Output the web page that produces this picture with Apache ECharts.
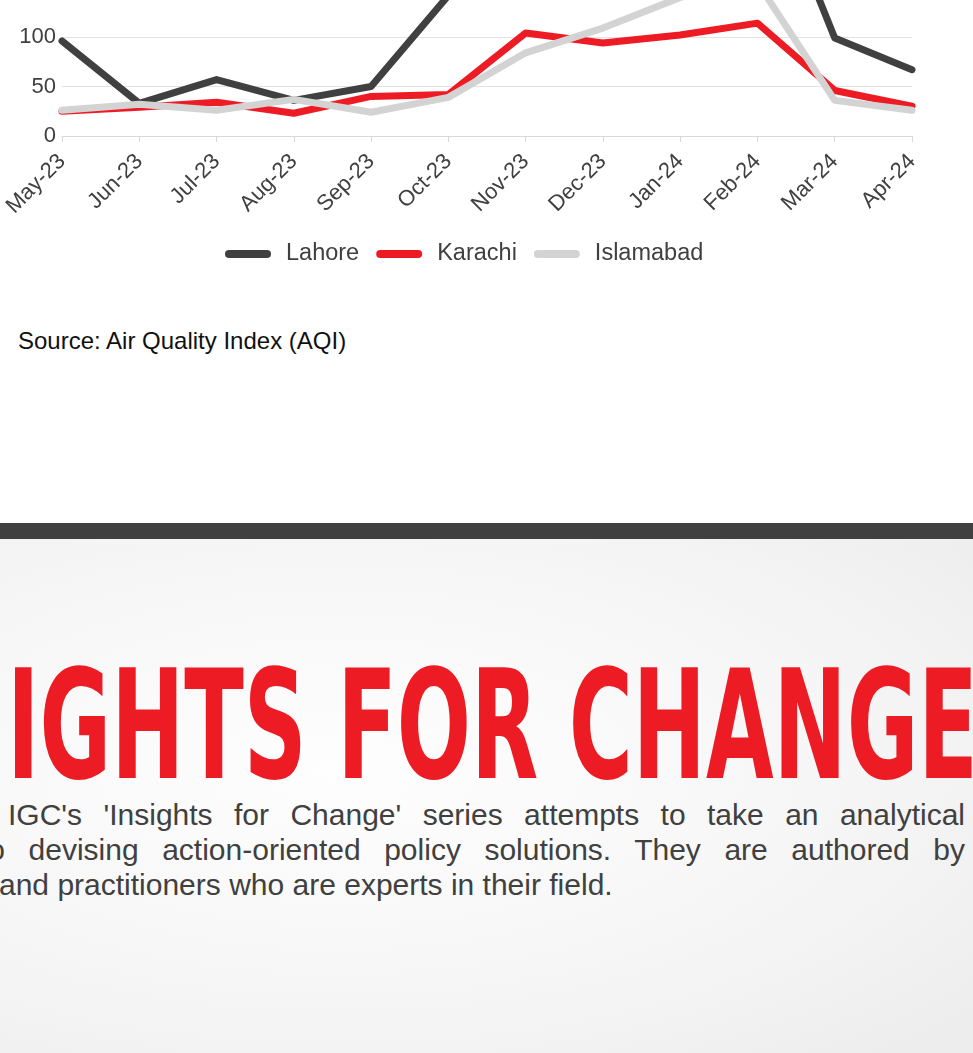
<!DOCTYPE html>
<html lang="en">
<head>
  <meta charset="UTF-8">
  <title>AQI by city</title>
  <script src="https://cdn.jsdelivr.net/npm/echarts@6/dist/echarts.min.js"></script>
  <style>
    html, body { margin: 0; padding: 0; }
    body { width: 973px; height: 1053px; position: relative; overflow: hidden; background: #fff; font-family: "Liberation Sans", Arial, sans-serif; }
    #chart { position: absolute; left: 0; top: -300px; width: 973px; height: 600px; }
    .source { position: absolute; left: 18px; top: 329px; font-size: 24px; line-height: 24px; color: #111; }
    .band { position: absolute; left: 0; top: 523px; width: 973px; height: 16px; background: #404040; }
    .promo { position: absolute; left: 0; top: 539px; width: 973px; height: 514px;
      background: radial-gradient(ellipse at 35% 45%, #fefefe 0%, #f6f6f6 55%, #ececec 100%); overflow: hidden; }
    .promo svg { position: absolute; left: 0; top: 101px; }
    .line { position: absolute; font-size: 30px; line-height: 35px; color: #404040; white-space: nowrap; }
    .just { text-align: justify; text-align-last: justify; }
  </style>
</head>
<body>
  <div id="chart"></div>
  <div class="source">Source: Air Quality Index (AQI)</div>
  <div class="band"></div>
  <div class="promo">
    <svg width="973" height="150">
      <text x="-5" y="138" text-anchor="end" font-family="DejaVu Sans Condensed, DejaVu Sans" font-weight="bold" font-size="152" fill="#ed1c24">INS</text>
      <text x="7" y="138" textLength="971" lengthAdjust="spacingAndGlyphs" font-family="DejaVu Sans Condensed, DejaVu Sans" font-weight="bold" font-size="152" fill="#ed1c24">IGHTS FOR CHANGE</text>
    </svg>
    <div class="line" style="left:-60px; top:258px;">The</div>
    <div class="line just" style="left:8px; width:957px; top:258px;">IGC's 'Insights for Change' series attempts to take an analytical</div>
    <div class="line just" style="left:-20px; width:985px; top:293px;">to devising action-oriented policy solutions. They are authored by</div>
    <div class="line" style="left:-1px; top:328px;">and practitioners who are experts in their field.</div>
  </div>

  <script>
    // months on the x axis
    const months = ['May-23', 'Jun-23', 'Jul-23', 'Aug-23', 'Sep-23', 'Oct-23',
                    'Nov-23', 'Dec-23', 'Jan-24', 'Feb-24', 'Mar-24', 'Apr-24'];
    const cities = ['Lahore', 'Karachi', 'Islamabad'];
    const colors = ['#404040', '#ed1c24', '#d3d3d3'];

    // AQI per month (values above ~140 are cut off in the picture, estimated)
    const lahore    = [96, 33, 57, 36, 50, 142, 215, 265, 285, 293, 99, 67];
    const karachi   = [25, 29, 34, 23, 40, 42, 104, 94, 102, 114, 46, 30];
    const islamabad = [26, 32, 26, 37, 24, 39, 84, 109, 140, 155, 36, 26];

    const yTicks = { min: 0, max: 400, interval: 50 };

    const chart = echarts.init(document.getElementById('chart'));

    const seriesData = [lahore, karachi, islamabad];

    const option = {
      animation: false,
      textStyle: { fontFamily: 'Liberation Sans, Arial, sans-serif' },
      grid: { left: 62, right: 61, top: 40, bottom: 164 },
      legend: {
        left: 220,
        top: 537,
        icon: 'path://M4,0 L42,0 A4,4 0 0 1 42,8 L4,8 A4,4 0 0 1 4,0 Z',
        itemWidth: 46,
        itemHeight: 8,
        itemGap: 17,
        textStyle: { fontSize: 23.5, color: '#404040', padding: [0, 0, 0, 10] },
        data: cities
      },
      xAxis: {
        type: 'category',
        data: months,
        boundaryGap: false,
        axisLine: { lineStyle: { color: '#d9d9d9', width: 1 } },
        axisTick: { show: true, length: 6, lineStyle: { color: '#d9d9d9' } },
        axisLabel: { rotate: 45, margin: 22, fontSize: 22, color: '#404040', interval: 0 }
      },
      yAxis: {
        type: 'value',
        min: yTicks.min,
        max: yTicks.max,
        interval: yTicks.interval,
        axisLine: { show: false },
        axisTick: { show: false },
        axisLabel: { fontSize: 22, color: '#404040', margin: 6 },
        splitLine: { lineStyle: { color: '#e3e3e3', width: 1 } }
      },
      series: cities.map((name, i) => ({
        name: name,
        type: 'line',
        data: seriesData[i],
        showSymbol: false,
        symbol: 'none',
        color: colors[i],
        lineStyle: { width: 7, color: colors[i], cap: 'round', join: 'round' }
      }))
    };

    chart.setOption(option);
  </script>
</body>
</html>
